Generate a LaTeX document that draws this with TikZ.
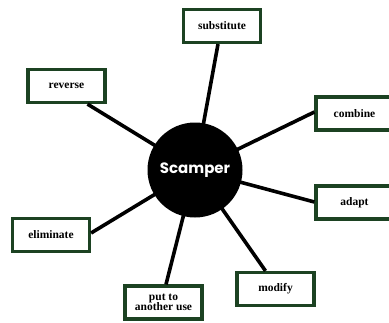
\documentclass[tikz,border=0pt]{standalone}
\usepackage{fontspec}
\setmainfont{Liberation Serif}
\newfontfamily\hubfont{Poppins}
\definecolor{boxgreen}{RGB}{28,66,34}
\begin{document}
\begin{tikzpicture}[x=1pt,y=-1pt,
  idea/.style={draw=boxgreen,line width=3.2pt,fill=white,minimum width=77pt,
    minimum height=33pt,inner sep=0pt,align=center,
    font=\fontsize{11.5}{11.5}\selectfont\bfseries},
  spoke/.style={line width=3.6pt,black}]
\useasboundingbox (0,0) rectangle (389,322);
\clip (0,0) rectangle (389,322);
% outer idea boxes
\node[idea] (sub) at (222,26) {substitute};
\node[idea] (rev) at (66.5,86) {reverse};
\node[idea] (com) at (354.5,113.5) {combine};
\node[idea] (ada) at (354.5,202.5) {adapt};
\node[idea] (eli) at (51,235) {eliminate};
\node[idea] (put) at (163.5,302.5) {put to\\[-1pt]another use};
\node[idea] (mod) at (275.5,289) {modify};
% central hub
\coordinate (hubc) at (195,170);
\draw[spoke] (hubc) -- ([xshift=-4pt]sub.south);
\draw[spoke] (hubc) -- ([xshift=21pt]rev.south);
\draw[spoke] (hubc) -- ([yshift=1.5pt]com.west);
\draw[spoke] (hubc) -- ([yshift=0.5pt]ada.west);
\draw[spoke] (hubc) -- ([yshift=2pt]eli.east);
\draw[spoke] (hubc) -- ([xshift=2.5pt]put.north);
\draw[spoke] (hubc) -- ([xshift=-10pt]mod.north);
\node[circle,fill=black,minimum size=95pt,inner sep=0pt,text=white,
  font=\hubfont\bfseries\fontsize{15}{15}\selectfont] (hub) at (hubc) {Scamper};
\end{tikzpicture}
\end{document}
